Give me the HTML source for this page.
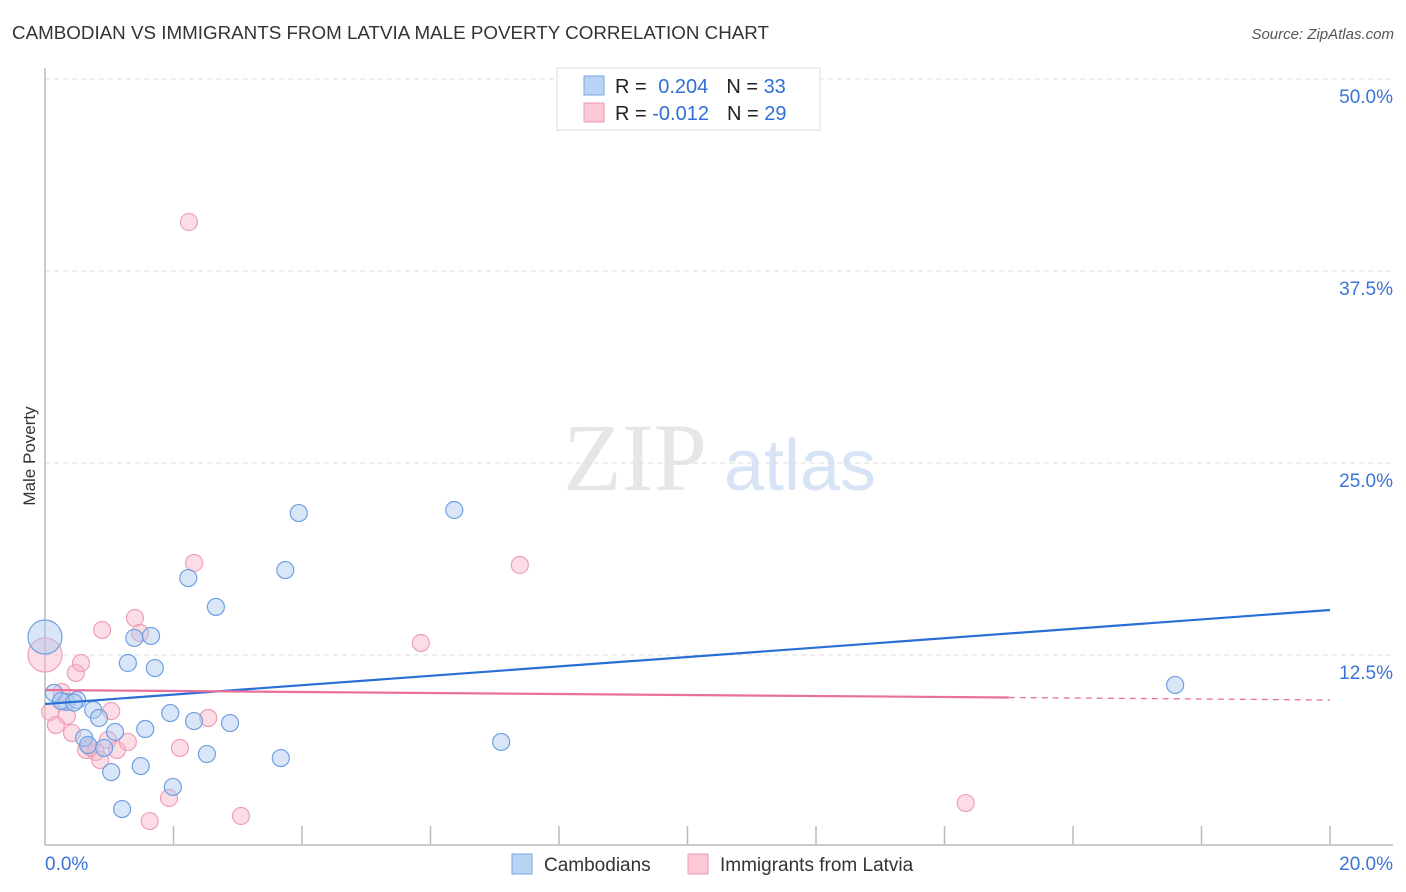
<!DOCTYPE html>
<html><head><meta charset="utf-8"><style>
body{margin:0;background:#fff;font-family:"Liberation Sans",sans-serif;}
svg{display:block}
</style></head><body>
<svg id="chart" width="1406" height="892" xmlns="http://www.w3.org/2000/svg">
<text x="12" y="39" font-size="18" fill="#333" textLength="757" lengthAdjust="spacingAndGlyphs">CAMBODIAN VS IMMIGRANTS FROM LATVIA MALE POVERTY CORRELATION CHART</text>
<text x="1394" y="39" font-size="15" fill="#555" font-style="italic" text-anchor="end">Source: ZipAtlas.com</text>
<text x="35" y="456" font-size="17" fill="#333" text-anchor="middle" transform="rotate(-90 35 456)">Male Poverty</text>
<g>
<text x="635" y="490" font-size="96" fill="#e6e6e6" font-family="Liberation Serif,serif" text-anchor="middle">ZIP</text>
<text x="800" y="490" font-size="72" fill="#d6e4f5" text-anchor="middle">atlas</text>
</g>
<g id="grid"></g>
<g id="axes"></g>
<g id="pts"></g>
<g id="trend"></g>
<g>
<rect x="557" y="68" width="263" height="62" fill="#fff" stroke="#ddd"/>
<rect x="584" y="76" width="20" height="19" fill="#b9d3f5" stroke="#7aa6e6"/>
<rect x="584" y="103" width="20" height="19" fill="#fbc8d6" stroke="#ee9ab4"/>
<text x="615" y="93" font-size="20" fill="#222">R = <tspan fill="#2f6fd6" dx="6">0.204</tspan><tspan dx="18" fill="#222">N = </tspan><tspan fill="#2f6fd6">33</tspan></text>
<text x="615" y="120" font-size="20" fill="#222">R = <tspan fill="#2f6fd6">-0.012</tspan><tspan dx="18" fill="#222">N = </tspan><tspan fill="#2f6fd6">29</tspan></text>
</g>
<g>
<rect x="512" y="854" width="20" height="20" fill="#b9d3f5" stroke="#7aa6e6"/>
<text x="544" y="871" font-size="19" fill="#333">Cambodians</text>
<rect x="688" y="854" width="20" height="20" fill="#fbc8d6" stroke="#ee9ab4"/>
<text x="720" y="871" font-size="19" fill="#333">Immigrants from Latvia</text>
</g>
</svg>
<script>
const blueX=[0,0.14,0.33,0.50,0.75,0.84,0.61,0.67,0.92,1.03,1.09,1.20,1.29,1.39,1.49,1.56,1.65,1.71,1.95,1.99,2.23,2.32,2.52,2.66,2.88,3.67,3.74,3.95,6.37,7.10,17.59,0.25,0.45];
const blueY=[13.67,10.03,9.44,9.57,8.92,8.40,7.10,6.64,6.45,4.88,7.49,2.47,11.98,13.61,5.27,7.68,13.74,11.65,8.72,3.91,17.51,8.20,6.05,15.63,8.07,5.79,18.03,21.74,21.94,6.84,10.55,9.5,9.4];
const pinkX=[0,0.08,0.17,0.26,0.34,0.42,0.48,0.56,0.64,0.79,0.86,0.89,0.98,1.03,1.12,1.29,1.40,1.48,1.63,1.93,2.10,2.32,2.54,3.05,2.24,5.85,7.39,14.33,0.70];
const pinkY=[12.5,8.79,7.94,10.09,8.53,7.42,11.33,11.98,6.32,6.18,5.66,14.13,6.97,8.85,6.32,6.84,14.91,13.93,1.69,3.19,6.45,18.49,8.40,2.02,40.69,13.28,18.36,2.86,6.5];
const yTicks=[12.5,25,37.5,50];
const blueTrend=[9.31,15.43];
const pinkTrend=[10.22,9.57];
const NS="http://www.w3.org/2000/svg";
const X=v=>45+v/20*1285, Y=v=>847-v/50*768;
function mk(t,a,p){const e=document.createElementNS(NS,t);for(const k in a)e.setAttribute(k,a[k]);p.appendChild(e);return e;}
const grid=document.getElementById('grid'),axes=document.getElementById('axes');
yTicks.forEach(t=>{
 const l=mk('line',{x1:45,x2:1393,y1:Y(t),y2:Y(t),stroke:'#ddd','stroke-dasharray':'5,4'},grid);
 
 
 const tx=mk('text',{x:1393,y:Y(t)+24,'font-size':19,fill:'#3a74d6','text-anchor':'end'},axes);
 tx.textContent=t.toFixed(1)+'%';
 
 
});
mk('line',{x1:45,x2:45,y1:68,y2:845,stroke:'#bbb','stroke-width':1.5},axes);
mk('line',{x1:45,x2:1393,y1:845,y2:845,stroke:'#bbb','stroke-width':1.5},axes);
for(let i=1;i<=10;i++){mk('line',{x1:X(i*2),x2:X(i*2),y1:826,y2:845,stroke:'#bbb','stroke-width':1.5},axes);}
const x0=mk('text',{x:45,y:870,'font-size':19,fill:'#3a74d6'},axes);x0.textContent='0.0%';


const x1=mk('text',{x:1393,y:870,'font-size':19,fill:'#3a74d6','text-anchor':'end'},axes);x1.textContent='20.0%';


const pts=document.getElementById('pts');
pinkX.forEach((v,i)=>{const c=mk('circle',{cx:X(v),cy:Y(pinkY[i]),r:i==0?17:8.5,fill:'rgba(248,180,200,0.45)',stroke:'#eea0b8','stroke-width':1.2},pts);
 
 });
blueX.forEach((v,i)=>{const c=mk('circle',{cx:X(v),cy:Y(blueY[i]),r:i==0?17:8.5,fill:'rgba(170,200,240,0.45)',stroke:'#6f9fe0','stroke-width':1.2},pts);
 
 });
const tr=document.getElementById('trend');
const bl=mk('line',{x1:X(0),y1:Y(blueTrend[0]),x2:X(20),y2:Y(blueTrend[1]),stroke:'#2a6fd6','stroke-width':2.2},tr);


const pm=v=>pinkTrend[0]+(pinkTrend[1]-pinkTrend[0])*v/20;
const pl=mk('line',{x1:X(0),y1:Y(pm(0)),x2:X(15),y2:Y(pm(15)),stroke:'#e8709a','stroke-width':2.2},tr);


const pd=mk('line',{x1:X(15),y1:Y(pm(15)),x2:X(20),y2:Y(pm(20)),stroke:'#e8709a','stroke-width':1.3,'stroke-dasharray':'6,5'},tr);


</script>
</body></html>
